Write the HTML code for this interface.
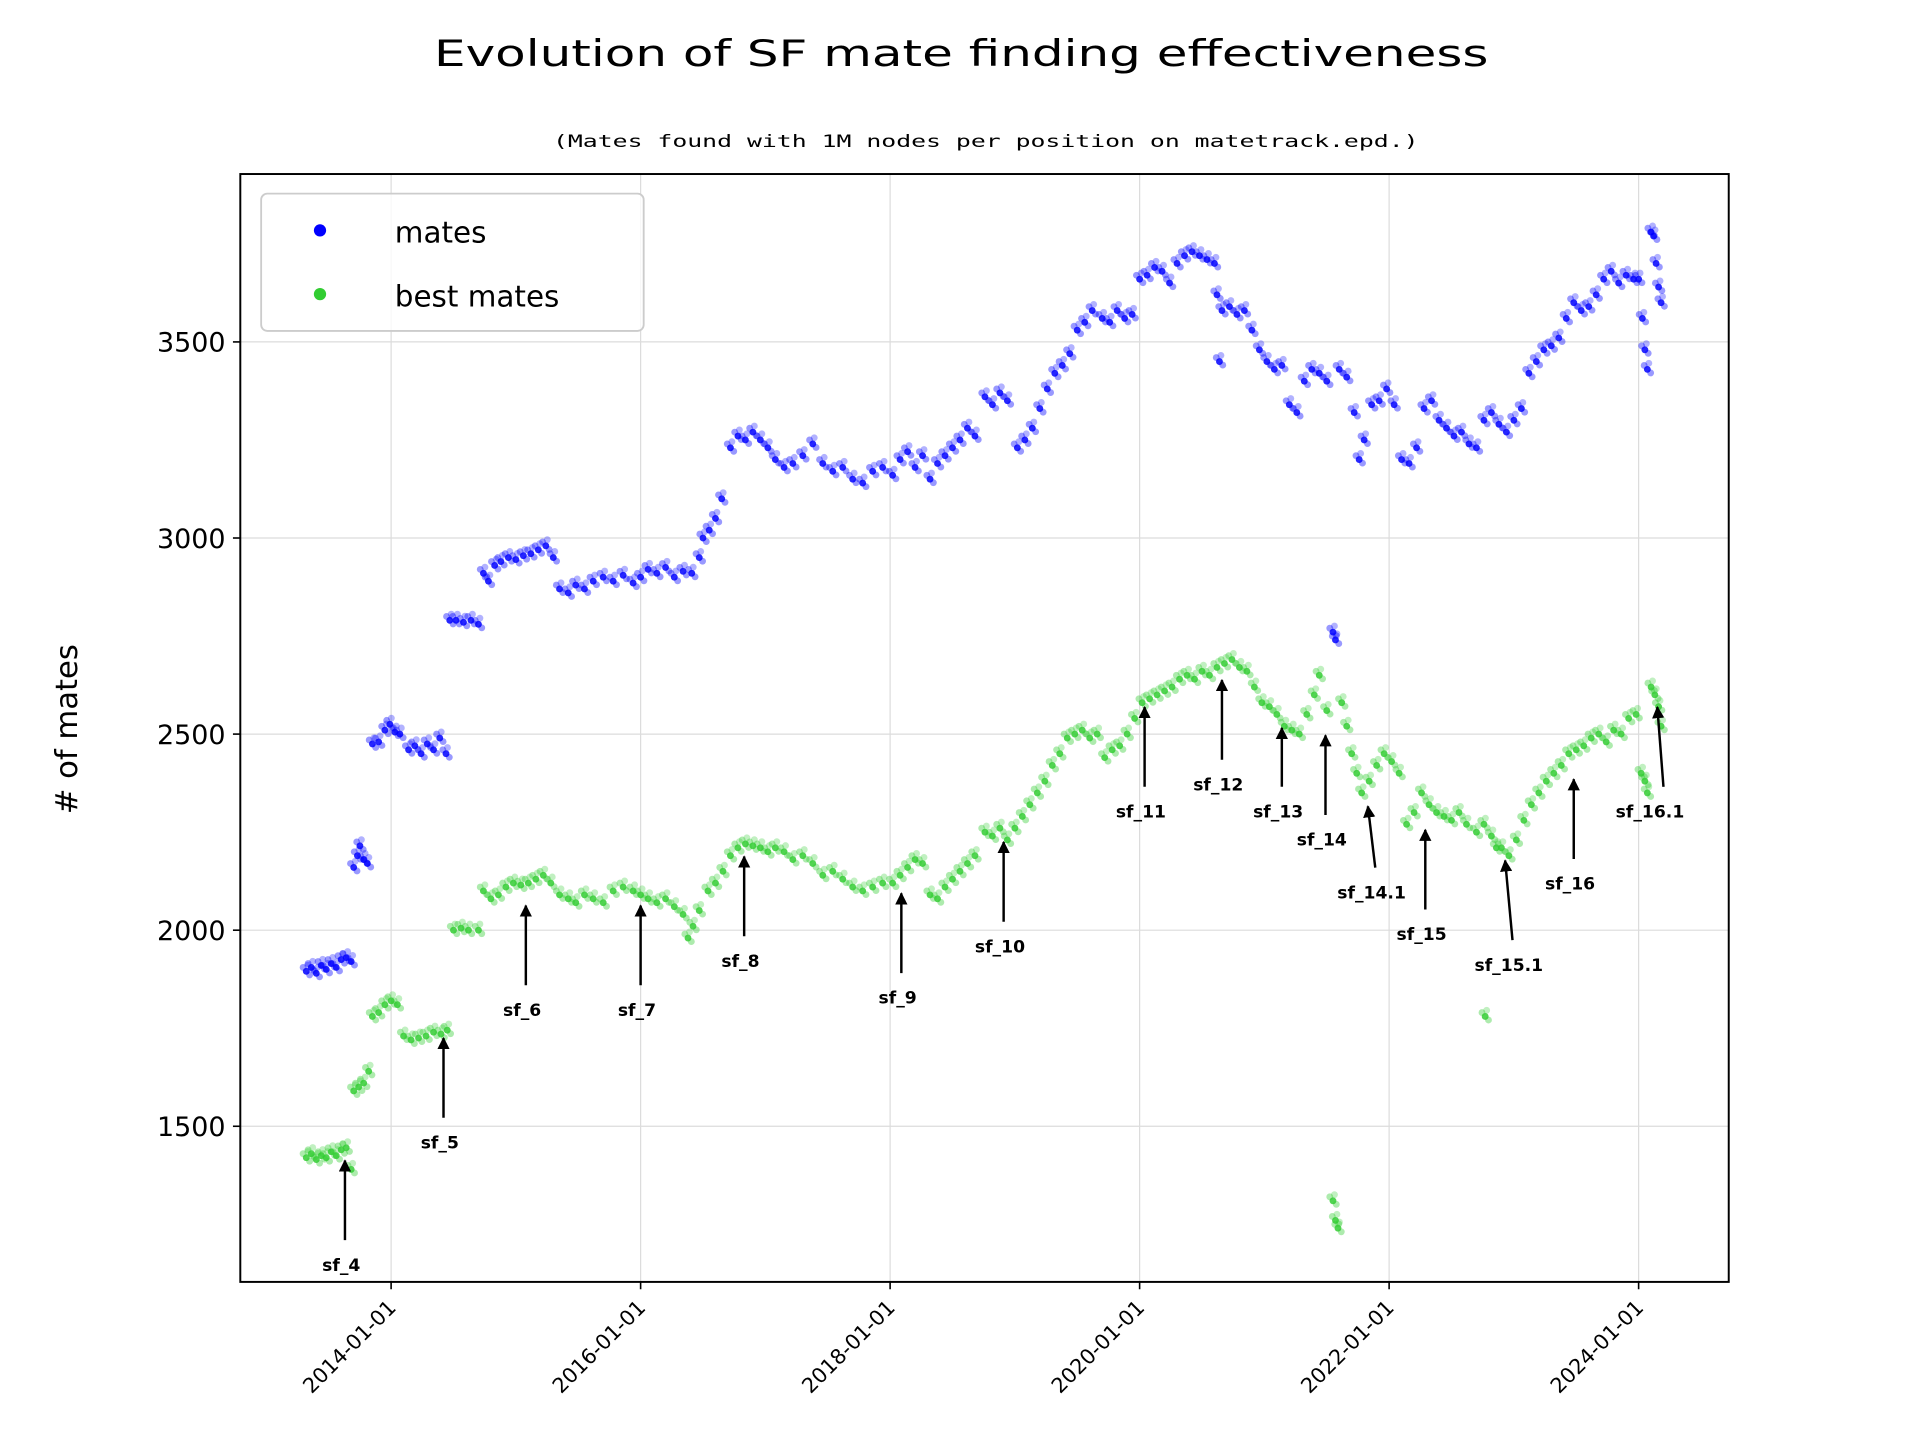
<!DOCTYPE html>
<html><head><meta charset="utf-8"><title>Evolution of SF mate finding effectiveness</title>
<style>html,body{margin:0;padding:0;background:#fff}svg{display:block}</style></head>
<body>
<svg id="chart" width="1920" height="1440" viewBox="0 0 1566 1175" preserveAspectRatio="none" xmlns="http://www.w3.org/2000/svg" font-family="'DejaVu Sans','Liberation Sans',sans-serif">
<defs><marker id="ah" markerWidth="10" markerHeight="10" refX="9" refY="5" orient="auto" markerUnits="userSpaceOnUse"><path d="M0,0 L10,5 L0,10 z" fill="#000"/></marker></defs>
<text x="784" y="54" font-size="30" text-anchor="middle" textLength="860" lengthAdjust="spacingAndGlyphs">Evolution of SF mate finding effectiveness</text>
<text x="804" y="120" font-size="14" text-anchor="middle" font-family="'DejaVu Sans Mono','Liberation Mono',monospace" textLength="706" lengthAdjust="spacingAndGlyphs">(Mates found with 1M nodes per position on matetrack.epd.)</text>
<g id="grid"></g>
<g id="ticks"></g>
<g id="pts"></g>
<g id="ann"></g>
<rect x="196" y="142" width="1214" height="904" fill="none" stroke="#000" stroke-width="1.6"/>
<text transform="translate(63,595) rotate(-90)" font-size="25" text-anchor="middle"># of mates</text>
<g>
<rect x="213" y="158" width="312" height="112" rx="5" fill="#fff" fill-opacity="0.8" stroke="#ccc" stroke-width="1.5"/>
<circle cx="261" cy="188" r="5" fill="#0000ff"/>
<text x="322" y="198" font-size="24">mates</text>
<circle cx="261" cy="240" r="5" fill="#32cd32"/>
<text x="322" y="250" font-size="24">best mates</text>
</g>
</svg>
<script>
const yTicks=[1500,2000,2500,3000,3500];
const xTickYears=[2014,2016,2018,2020,2022,2024];
const xTickLabels=["2014-01-01","2016-01-01","2018-01-01","2020-01-01","2022-01-01","2024-01-01"];
const mateDates=[2013.32,2013.36,2013.40,2013.44,2013.48,2013.52,2013.56,2013.60,2013.64,2013.68,2013.70,2013.73,2013.75,2013.78,2013.81,2013.85,2013.90,2013.95,2013.99,2014.03,2014.07,2014.14,2014.19,2014.24,2014.29,2014.34,2014.39,2014.44,2014.47,2014.52,2014.58,2014.64,2014.70,2014.74,2014.78,2014.83,2014.88,2014.94,2015.00,2015.06,2015.12,2015.18,2015.24,2015.30,2015.35,2015.42,2015.48,2015.55,2015.62,2015.70,2015.78,2015.86,2015.94,2016.00,2016.06,2016.13,2016.20,2016.27,2016.34,2016.41,2016.47,2016.50,2016.55,2016.60,2016.65,2016.72,2016.78,2016.84,2016.90,2016.96,2017.02,2017.08,2017.15,2017.22,2017.30,2017.38,2017.46,2017.54,2017.62,2017.70,2017.78,2017.86,2017.94,2018.02,2018.08,2018.14,2018.20,2018.26,2018.32,2018.38,2018.44,2018.50,2018.56,2018.62,2018.68,2018.76,2018.82,2018.88,2018.94,2019.02,2019.08,2019.14,2019.20,2019.26,2019.32,2019.38,2019.44,2019.50,2019.56,2019.62,2019.70,2019.76,2019.82,2019.88,2019.94,2020.00,2020.06,2020.12,2020.18,2020.24,2020.30,2020.36,2020.42,2020.48,2020.54,2020.60,2020.62,2020.64,2020.66,2020.72,2020.78,2020.84,2020.90,2020.96,2021.02,2021.08,2021.14,2021.20,2021.26,2021.32,2021.38,2021.44,2021.50,2021.55,2021.57,2021.60,2021.66,2021.72,2021.76,2021.80,2021.86,2021.92,2021.98,2022.04,2022.10,2022.16,2022.22,2022.28,2022.34,2022.40,2022.46,2022.52,2022.58,2022.64,2022.70,2022.76,2022.82,2022.88,2022.94,2023.00,2023.06,2023.12,2023.18,2023.24,2023.30,2023.36,2023.42,2023.48,2023.54,2023.60,2023.66,2023.72,2023.78,2023.84,2023.90,2023.96,2024.00,2024.03,2024.05,2024.07,2024.10,2024.12,2024.14,2024.16,2024.18];
const mateValues=[1895,1905,1890,1910,1900,1915,1905,1925,1930,1920,2160,2190,2215,2180,2170,2475,2480,2510,2525,2505,2500,2460,2470,2450,2475,2460,2490,2450,2790,2790,2785,2790,2780,2910,2890,2930,2940,2950,2945,2955,2960,2970,2980,2950,2870,2860,2880,2870,2890,2900,2890,2905,2885,2900,2920,2910,2925,2900,2915,2910,2950,3000,3020,3050,3100,3230,3260,3250,3270,3250,3230,3200,3180,3190,3210,3240,3190,3170,3180,3150,3140,3170,3180,3160,3200,3220,3180,3210,3150,3190,3210,3230,3250,3280,3260,3360,3340,3370,3350,3230,3250,3280,3330,3380,3420,3440,3470,3530,3550,3580,3560,3550,3580,3560,3570,3660,3670,3690,3680,3650,3700,3720,3730,3720,3710,3700,3620,3450,3580,3590,3570,3580,3530,3480,3450,3430,3440,3340,3320,3400,3430,3420,3400,2760,2740,3430,3410,3320,3200,3250,3340,3350,3380,3340,3200,3190,3230,3330,3350,3300,3280,3260,3270,3240,3230,3300,3320,3290,3270,3300,3330,3420,3450,3480,3490,3510,3560,3600,3580,3590,3620,3660,3680,3650,3670,3660,3660,3560,3480,3430,3780,3770,3700,3640,3600];
const bestDates=[2013.32,2013.36,2013.40,2013.44,2013.48,2013.52,2013.56,2013.60,2013.64,2013.68,2013.70,2013.74,2013.78,2013.82,2013.85,2013.90,2013.95,2014.00,2014.05,2014.10,2014.16,2014.22,2014.28,2014.34,2014.40,2014.45,2014.50,2014.56,2014.62,2014.70,2014.74,2014.80,2014.86,2014.92,2014.98,2015.04,2015.10,2015.16,2015.22,2015.28,2015.35,2015.42,2015.48,2015.55,2015.62,2015.70,2015.78,2015.86,2015.94,2016.00,2016.06,2016.13,2016.20,2016.27,2016.34,2016.38,2016.42,2016.47,2016.54,2016.60,2016.66,2016.72,2016.78,2016.84,2016.90,2016.96,2017.02,2017.08,2017.15,2017.22,2017.30,2017.38,2017.46,2017.54,2017.62,2017.70,2017.78,2017.86,2017.94,2018.02,2018.08,2018.14,2018.20,2018.26,2018.32,2018.38,2018.44,2018.50,2018.56,2018.62,2018.68,2018.76,2018.82,2018.88,2018.94,2019.00,2019.06,2019.12,2019.18,2019.24,2019.30,2019.36,2019.42,2019.48,2019.54,2019.60,2019.66,2019.72,2019.78,2019.84,2019.90,2019.96,2020.02,2020.08,2020.14,2020.20,2020.26,2020.32,2020.38,2020.44,2020.50,2020.56,2020.62,2020.68,2020.74,2020.80,2020.86,2020.92,2020.98,2021.04,2021.10,2021.16,2021.22,2021.28,2021.34,2021.40,2021.44,2021.50,2021.55,2021.57,2021.59,2021.62,2021.66,2021.70,2021.74,2021.78,2021.84,2021.90,2021.96,2022.02,2022.08,2022.14,2022.20,2022.26,2022.32,2022.38,2022.44,2022.50,2022.56,2022.62,2022.70,2022.76,2022.82,2022.86,2022.90,2022.96,2023.02,2022.77,2023.08,2023.14,2023.20,2023.26,2023.32,2023.38,2023.44,2023.50,2023.56,2023.62,2023.68,2023.74,2023.80,2023.86,2023.92,2023.98,2024.02,2024.05,2024.07,2024.10,2024.13,2024.16,2024.18];
const bestValues=[1420,1430,1415,1425,1420,1435,1425,1440,1445,1390,1590,1600,1610,1640,1780,1790,1810,1820,1810,1730,1720,1725,1730,1740,1735,1745,2000,2005,2000,2000,2100,2080,2090,2110,2120,2115,2120,2130,2140,2120,2090,2080,2070,2090,2080,2070,2100,2110,2100,2090,2080,2070,2080,2060,2040,1980,2010,2050,2100,2120,2150,2190,2210,2220,2215,2210,2200,2210,2200,2180,2190,2170,2140,2150,2130,2110,2100,2110,2120,2120,2140,2160,2180,2170,2090,2080,2110,2130,2150,2170,2190,2250,2240,2260,2230,2260,2290,2320,2350,2380,2420,2450,2490,2500,2510,2490,2500,2440,2460,2470,2500,2540,2580,2590,2600,2610,2620,2640,2650,2640,2660,2650,2670,2680,2690,2670,2660,2620,2580,2570,2550,2520,2510,2500,2550,2600,2650,2560,1310,1260,1240,2580,2520,2450,2400,2350,2380,2420,2450,2430,2400,2270,2300,2350,2320,2300,2290,2280,2300,2270,2250,2270,2240,2210,2210,2190,2230,1780,2280,2320,2350,2380,2400,2420,2450,2460,2470,2490,2500,2480,2510,2500,2540,2550,2400,2380,2350,2620,2600,2570,2520];
const annLabels=["sf_4","sf_5","sf_6","sf_7","sf_8","sf_9","sf_10","sf_11","sf_12","sf_13","sf_14","sf_14.1","sf_15","sf_15.1","sf_16","sf_16.1"];
const annDates=[2013.63,2014.42,2015.08,2016.00,2016.83,2018.09,2018.91,2020.04,2020.66,2021.14,2021.49,2021.83,2022.29,2022.93,2023.48,2024.15];
const annValues=[1419,1731,2069,2069,2194,2100,2231,2575,2644,2522,2503,2322,2262,2184,2391,2575];

const NS="http://www.w3.org/2000/svg";
const L=196,R=1410,T=142,B=1046;
function xs(yr){return 319+(yr-2014)*101.75;}
function ys(v){return 279+(3500-v)*160/500;}
function mk(tag,attrs,parent){const e=document.createElementNS(NS,tag);for(const k in attrs)e.setAttribute(k,attrs[k]);parent.appendChild(e);return e;}
const grid=document.getElementById('grid'),ticks=document.getElementById('ticks'),pts=document.getElementById('pts'),ann=document.getElementById('ann');
yTicks.forEach(v=>{const y=ys(v);
 const g=mk('line',{x1:L,x2:R,y1:y,y2:y,stroke:'#dcdcdc','stroke-width':1},grid);
 
 
 const t=mk('line',{x1:L-6,x2:L,y1:y,y2:y,stroke:'#000','stroke-width':1.3},ticks);
 
 
 const tx=mk('text',{x:L-12,y:y+8,'font-size':22,'text-anchor':'end'},ticks);tx.textContent=v;
 
 
});
xTickYears.forEach((yr,i)=>{const x=xs(yr);
 const g=mk('line',{x1:x,x2:x,y1:T,y2:B,stroke:'#dcdcdc','stroke-width':1},grid);
 
 
 const t=mk('line',{x1:x,x2:x,y1:B,y2:B+6,stroke:'#000','stroke-width':1.3},ticks);
 
 
 const tx=mk('text',{transform:`translate(${x+5},${B+22}) rotate(-45)`,'font-size':17,'text-anchor':'end'},ticks);tx.textContent=xTickLabels[i];
 
 
});
const jit=[[0,0,0.85],[-2.6,-3.2,0.4],[2.7,2.9,0.4],[1.2,-5,0.3]];
function series(dates,vals,color,name){
 dates.forEach((d,i)=>{
  const x=xs(d),y=ys(vals[i]);
  jit.forEach(j=>{
   const c=mk('circle',{cx:x+j[0],cy:y+j[1],r:2.8,fill:color,'fill-opacity':j[2]},pts);
   
   
  });
 });
}
series(mateDates,mateValues,'#0000ff','mates-point');
series(bestDates,bestValues,'#32cd32','best-mates-point');
annLabels.forEach((lab,i)=>{
 const x=xs(annDates[i]),y=ys(annValues[i]);
 let len=67, dx=0;
 if(lab==='sf_13')len=50;
 if(lab==='sf_14.1'){len=52;dx=6;}
 if(lab==='sf_15.1')dx=6;
 if(lab==='sf_16.1')dx=5;
 const a=mk('line',{x1:x+dx,y1:y+len,x2:x,y2:y+2,stroke:'#000','stroke-width':2,'marker-end':'url(#ah)'},ann);
 
 
 let ldx=dx-3;if(lab==='sf_16.1')ldx=-6;
 const t=mk('text',{x:x+ldx,y:y+len+25,'font-size':14,'font-weight':'bold','text-anchor':'middle'},ann);t.textContent=lab;
 
 
});
</script>
</body></html>
